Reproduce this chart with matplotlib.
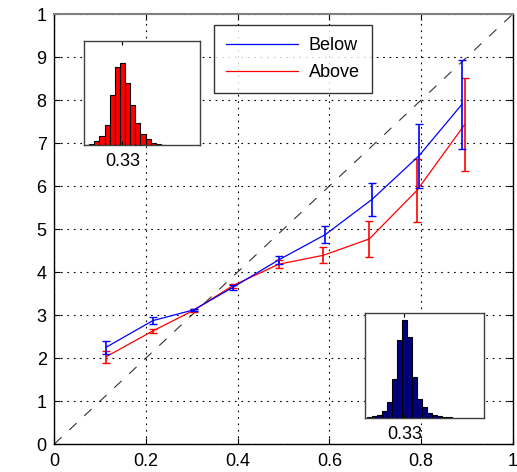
import matplotlib
matplotlib.use("Agg")
import matplotlib.pyplot as plt
from matplotlib.lines import Line2D
import numpy as np

plt.rcParams['font.family'] = ['Liberation Sans', 'DejaVu Sans']

# ---- data ----
x_below = [0.113, 0.215, 0.304, 0.389, 0.489, 0.591, 0.693, 0.795, 0.889]
y_below = [2.25, 2.87, 3.12, 3.64, 4.28, 4.87, 5.69, 6.70, 7.90]
e_below = [0.155, 0.08, 0.03, 0.05, 0.10, 0.205, 0.385, 0.735, 1.035]

x_above = [0.113, 0.215, 0.304, 0.389, 0.489, 0.587, 0.687, 0.791, 0.895]
y_above = [2.03, 2.63, 3.11, 3.68, 4.18, 4.39, 4.77, 5.90, 7.43]
e_above = [0.135, 0.05, 0.03, 0.05, 0.095, 0.19, 0.425, 0.73, 1.075]

diag_x = [0, 1]
diag_y = [0, 10]

xticks = [0, 0.2, 0.4, 0.6, 0.8, 1]
xticklabels = ['0', '0.2', '0.4', '0.6', '0.8', '1']
yticks = [0, 1, 2, 3, 4, 5, 6, 7, 8, 9, 10]
yticklabels = ['0', '1', '2', '3', '4', '5', '6', '7', '8', '9', '1']

hist_red = [1, 4, 12, 28, 62, 152, 236, 248, 186, 122, 68, 35, 18, 8, 3, 1]
hist_blue = [3, 6, 10, 22, 47, 118, 233, 293, 242, 123, 58, 32, 16, 10, 6, 4, 2]
inset_tick = [0.33]
inset_ticklabel = ['0.33']

FS = 13

# ---- figure ----
fig = plt.figure(figsize=(5.17, 4.72), dpi=100)
ax = fig.add_axes([0.105, 0.0593, 0.887, 0.911])

ax.plot(diag_x, diag_y, color='#333333', lw=0.8, dashes=(9, 9.5), zorder=1)

ax.errorbar(x_below, y_below, yerr=e_below, color='#0000ff', lw=0.9,
            elinewidth=1.2, capsize=2.8, capthick=1.0, zorder=3)
ax.errorbar(x_above, y_above, yerr=e_above, color='#ff0000', lw=0.9,
            elinewidth=1.2, capsize=2.8, capthick=1.0, zorder=2)

ax.set_xlim(0, 1)
ax.set_ylim(0, 10)
ax.set_xticks(xticks)
ax.set_xticklabels(xticklabels)
ax.set_yticks(yticks)
ax.set_yticklabels(yticklabels)
ax.tick_params(axis='both', direction='in', labelsize=FS, length=4, width=0.8,
               top=True, right=True)
ax.tick_params(axis='x', pad=6.5)
ax.tick_params(axis='y', pad=5.5)
ax.grid(True, color='black', lw=0.8, linestyle=(0, (1.5, 4.3)))
for s in ['left', 'bottom', 'right']:
    ax.spines[s].set_color('black')
    ax.spines[s].set_linewidth(1.0)
ax.spines['top'].set_color('#808080')
ax.spines['top'].set_linewidth(1.5)

handles = [Line2D([], [], color='#0000ff', lw=0.9),
           Line2D([], [], color='#ff0000', lw=0.9)]
leg = ax.legend(handles, ['Below', 'Above'], loc='upper left',
                bbox_to_anchor=(0.3486, 0.9737),
                borderaxespad=0, fontsize=FS, handlelength=4.0,
                handletextpad=0.6, borderpad=0.65, labelspacing=0.55,
                frameon=True, fancybox=False)
leg.get_frame().set_edgecolor('black')
leg.get_frame().set_linewidth(1.0)

def draw_inset(rect, heights, start, width, color, top):
    iax = fig.add_axes(rect)
    lefts = start + width * np.arange(len(heights))
    iax.bar(lefts, heights, width=width, align='edge', color=color,
            edgecolor='black', linewidth=0.8)
    iax.set_xlim(0, 1)
    iax.set_ylim(0, top)
    iax.set_yticks([])
    iax.set_xticks(inset_tick)
    iax.set_xticklabels(inset_ticklabel)
    iax.tick_params(axis='x', direction='in', length=3, width=0.8,
                    top=True, labelsize=FS, pad=5.5)
    for s in iax.spines.values():
        s.set_color('#404040')
        s.set_linewidth(1.0)
    iax.set_facecolor('white')
    return iax

draw_inset([0.1625, 0.692, 0.2244, 0.2216], hist_red, 0.0, 0.0442, '#ff0000', 314)
draw_inset([0.7066, 0.1144, 0.2296, 0.2231], hist_blue, 0.017, 0.0421, '#000080', 316)

fig.savefig('out.png', dpi=100)
